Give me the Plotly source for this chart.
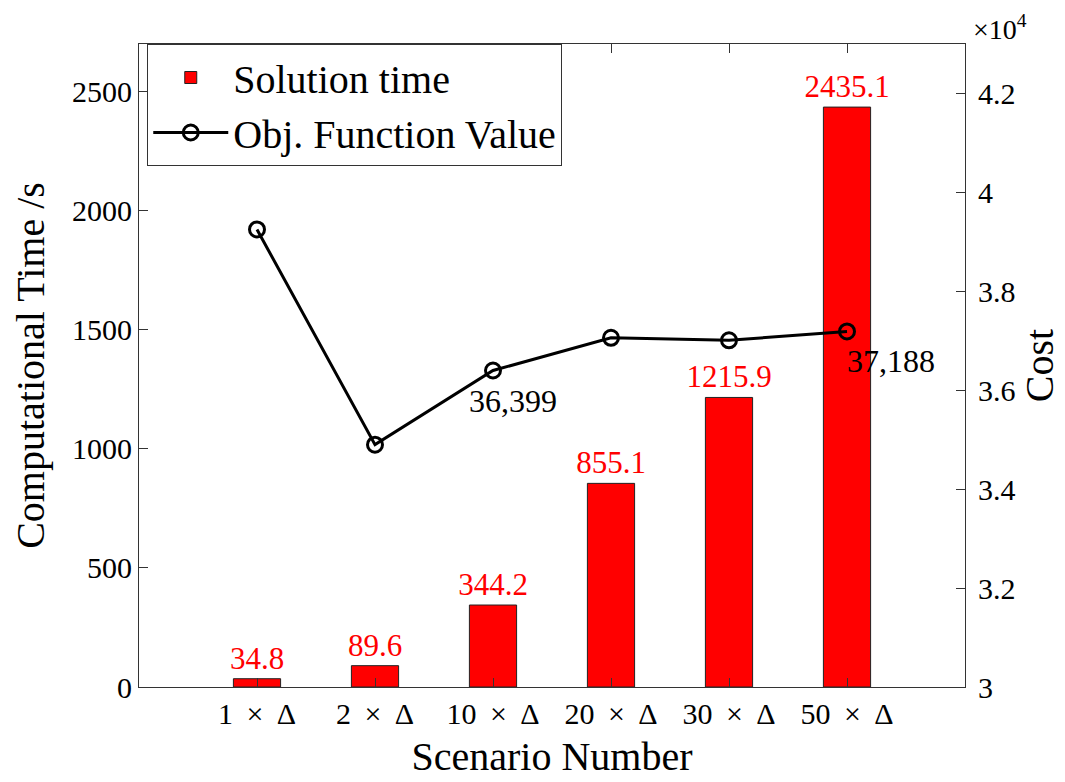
import plotly.graph_objects as go

categories = ["1\u2009\u00a0×\u00a0\u2009Δ", "2\u2009\u00a0×\u00a0\u2009Δ", "10\u2009\u00a0×\u00a0\u2009Δ",
              "20\u2009\u00a0×\u00a0\u2009Δ", "30\u2009\u00a0×\u00a0\u2009Δ", "50\u2009\u00a0×\u00a0\u2009Δ"]
positions = [1, 2, 3, 4, 5, 6]
solution_time = [34.8, 89.6, 344.2, 855.1, 1215.9, 2435.1]
obj_value = [39250, 34900, 36399, 37060, 37010, 37188]
labeled_points = [2, 5]
label_xshift = [-26, -2]

cost_ticks = [30000, 32000, 34000, 36000, 38000, 40000, 42000]
cost_ticktext = ["3", "3.2", "3.4", "3.6", "3.8", "4", "4.2"]
time_ticks = [0, 500, 1000, 1500, 2000, 2500]

FONT = "Liberation Serif"

fig = go.Figure()
fig.add_trace(go.Bar(
    x=positions, y=solution_time, width=0.4, name="Solution time",
    marker=dict(color="#ff0000", line=dict(color="#222222", width=1)),
    text=[f"{v:.1f}" for v in solution_time], textposition="outside",
    constraintext="none",
    textfont=dict(color="#ff0000", size=31, family=FONT), cliponaxis=False,
    yaxis="y",
))
fig.add_trace(go.Scatter(
    x=positions, y=obj_value, name="Obj. Function Value", mode="lines+markers",
    line=dict(color="black", width=3),
    marker=dict(symbol="circle-open", size=15, color="black", line=dict(width=3)),
    yaxis="y2", cliponaxis=False,
))

for i, xs in zip(labeled_points, label_xshift):
    fig.add_annotation(xref="x", yref="y2", x=positions[i], y=obj_value[i],
                       text=f"{obj_value[i]:,}", showarrow=False,
                       xanchor="left", yanchor="top", xshift=xs, yshift=-10,
                       font=dict(size=32, family=FONT, color="black"))

axis_common = dict(ticks="inside", ticklen=9, tickcolor="#333333", showline=True,
                   linecolor="#333333", linewidth=1, showgrid=False, zeroline=False,
                   automargin=False, tickfont=dict(size=30))

fig.update_layout(
    width=1057, height=774,
    margin=dict(l=131, r=100, t=36, b=95),
    paper_bgcolor="white", plot_bgcolor="white",
    font=dict(family=FONT, size=30, color="black"),
    showlegend=True,
    legend=dict(x=0.01, y=1.0, xanchor="left", yanchor="top",
                bgcolor="white", bordercolor="#333333", borderwidth=1,
                font=dict(size=40, family=FONT), tracegroupgap=0, itemwidth=75),
    xaxis=dict(range=[0, 7], tickvals=positions, ticktext=categories, mirror="ticks",
               title=dict(text="Scenario Number", font=dict(size=40), standoff=12),
               **axis_common),
    yaxis=dict(range=[0, 2700], tickvals=time_ticks,
               title=dict(text="Computational Time /s", font=dict(size=40), standoff=16),
               **axis_common),
    yaxis2=dict(range=[30000, 43000], overlaying="y", side="right",
                tickvals=cost_ticks, ticktext=cost_ticktext, ticklabelstandoff=6,
                title=dict(text="Cost", font=dict(size=40), standoff=10),
                **axis_common),
)
fig.add_annotation(xref="paper", yref="paper", x=1.0, y=1.0, xanchor="left", yanchor="top",
                   xshift=6, yshift=36, showarrow=False, text="×10<sup>4</sup>",
                   font=dict(size=28, family=FONT))

fig.write_html("out.html")
